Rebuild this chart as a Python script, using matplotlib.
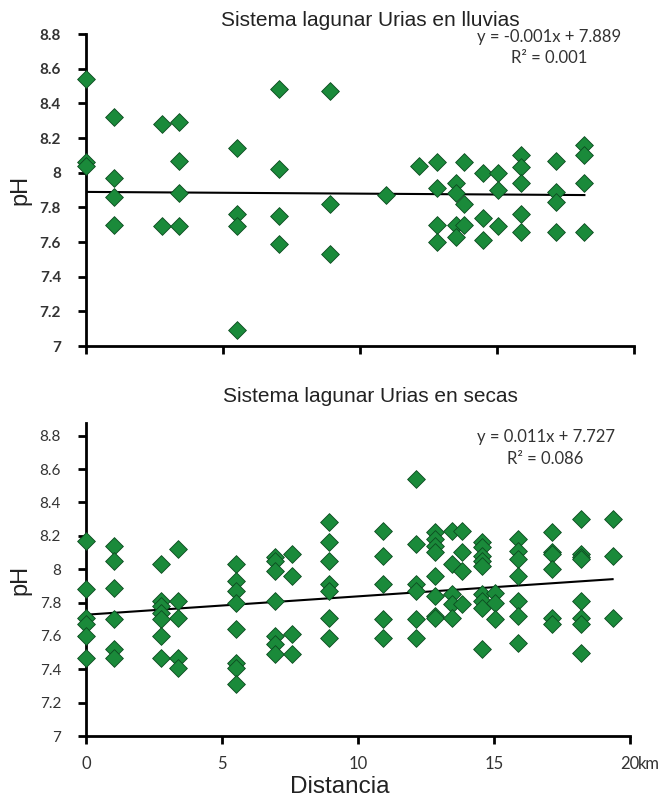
import numpy as np
import matplotlib
matplotlib.use("Agg")
import matplotlib.pyplot as plt
import matplotlib.transforms as mtransforms

# ===================== 数据 (lluvias) =====================
dist_lluvias = [0, 1.02, 2.76, 3.39, 5.51, 7.06, 8.92, 10.95, 12.17, 12.82,
                13.49, 13.8, 14.5, 15.02, 15.88, 17.14, 18.19]
ph_lluvias = [
    [8.54, 8.06, 8.04],
    [8.32, 7.97, 7.86, 7.70],
    [8.28, 7.69],
    [8.29, 8.07, 7.88, 7.69],
    [8.14, 7.76, 7.69, 7.09],
    [8.48, 8.02, 7.75, 7.59],
    [8.47, 7.82, 7.53],
    [7.87],
    [8.04],
    [8.06, 7.91, 7.70, 7.60],
    [7.94, 7.88, 7.70, 7.63],
    [8.06, 7.82, 7.70],
    [8.00, 7.74, 7.61],
    [8.00, 7.90, 7.69],
    [8.10, 8.03, 7.94, 7.76, 7.66],
    [8.07, 7.89, 7.83, 7.66],
    [8.16, 8.10, 7.94, 7.66],
]

# ===================== 数据 (secas) =====================
dist_secas = [0, 1.03, 2.77, 3.39, 5.5, 6.96, 7.57, 8.93, 10.93, 12.12,
              12.83, 13.44, 13.81, 14.55, 15.04, 15.87, 17.14, 18.19, 19.36]
ph_secas = [
    [8.17, 7.88, 7.71, 7.67, 7.60, 7.47],
    [8.14, 8.05, 7.89, 7.70, 7.52, 7.47],
    [8.03, 7.81, 7.78, 7.74, 7.70, 7.60, 7.47],
    [8.12, 7.81, 7.71, 7.47, 7.41],
    [8.03, 7.93, 7.87, 7.80, 7.64, 7.44, 7.41, 7.31],
    [8.07, 8.05, 7.99, 7.81, 7.60, 7.55, 7.49],
    [8.09, 7.96, 7.61, 7.49],
    [8.28, 8.16, 8.05, 7.91, 7.87, 7.71, 7.59],
    [8.23, 8.08, 7.91, 7.70, 7.59],
    [8.54, 8.15, 7.91, 7.87, 7.70, 7.59],
    [8.22, 8.18, 8.14, 8.10, 7.96, 7.84, 7.72, 7.71],
    [8.23, 8.03, 7.85, 7.79, 7.71],
    [8.23, 8.10, 7.99, 7.79],
    [8.16, 8.13, 8.08, 8.05, 8.02, 7.85, 7.81, 7.77, 7.52],
    [7.86, 7.80, 7.70],
    [8.18, 8.11, 8.06, 7.96, 7.81, 7.72, 7.56],
    [8.22, 8.10, 8.09, 8.00, 7.71, 7.67],
    [8.30, 8.09, 8.07, 8.06, 7.81, 7.71, 7.67, 7.50],
    [8.30, 8.08, 7.71],
]

# ===================== 趋势线 =====================
titles = ["Sistema lagunar Urias en lluvias", "Sistema lagunar Urias en secas"]
slopes = [-0.001, 0.011]
intercepts = [7.889, 7.727]
eq_labels = ["y = -0.001x + 7.889", "y = 0.011x + 7.727"]
r2_labels = ["R² = 0.001", "R² = 0.086"]

y_ticks = [7, 7.2, 7.4, 7.6, 7.8, 8, 8.2, 8.4, 8.6, 8.8]
y_tick_labels = ["7", "7.2", "7.4", "7.6", "7.8", "8", "8.2", "8.4", "8.6", "8.8"]
x_ticks = [0, 5, 10, 15, 20]
x_tick_labels = ["0", "5", "10", "15", "20"]
x_unit = "km"

GREEN = "#1a8a3a"
EDGE = "#0c4a20"
TXT = "#333333"


def expand(dists, groups):
    xs, ys = [], []
    for d, g in zip(dists, groups):
        for v in g:
            xs.append(d)
            ys.append(v)
    return np.array(xs), np.array(ys)


W, H = 667, 799
fig = plt.figure(figsize=(W / 100, H / 100), dpi=100)

ax_top = fig.add_axes([86 / W, 1 - 346 / H, (634 - 86) / W, (346 - 34) / H])
ax_bot = fig.add_axes([86 / W, 1 - 736 / H, (630 - 86) / W, (736 - 423) / H])

panels = [
    (ax_top, dist_lluvias, ph_lluvias, (7, 8.8), "bold", (0.99, 0.922)),
    (ax_bot, dist_secas, ph_secas, (7, 8.876), "normal", (0.955, 0.885)),
]

for i, (ax, dists, groups, ylim, weight, eq_y) in enumerate(panels):
    xs, ys = expand(dists, groups)
    ax.scatter(xs, ys, marker="D", s=82, color=GREEN, edgecolor=EDGE,
               linewidth=0.6, zorder=3, clip_on=False)

    xl = np.array([0, max(dists)])
    ax.plot(xl, slopes[i] * xl + intercepts[i], color="black", lw=1.5, zorder=2)

    ax.set_xlim(0, 20)
    ax.set_ylim(*ylim)
    ax.set_yticks(y_ticks)
    ax.set_yticklabels(y_tick_labels, fontsize=11, fontweight=weight,
                       color=TXT, family="Lato")
    ax.set_xticks(x_ticks)
    ax.set_xticklabels([])
    for s in ["top", "right"]:
        ax.spines[s].set_visible(False)
    for s in ["left", "bottom"]:
        ax.spines[s].set_linewidth(2)
    ax.tick_params(axis="both", direction="out", length=6, width=2, pad=12)
    ax.set_ylabel("pH", fontsize=17, family="Liberation Sans", color="#222222",
                  labelpad=6)

    ax.text(0.845, eq_y[0], eq_labels[i], transform=ax.transAxes,
            ha="center", va="center", fontsize=12, family="Lato", color=TXT)
    ax.text(0.845, eq_y[1], r2_labels[i], transform=ax.transAxes,
            ha="center", va="center", fontsize=12, family="Lato", color=TXT)

# x labels of the lower panel, placed under the ticks
lab_tr = mtransforms.blended_transform_factory(ax_bot.transData, fig.transFigure)
for xv, lab in zip(x_ticks, x_tick_labels):
    ax_bot.text(xv, 1 - 764 / H, lab, transform=lab_tr, ha="center",
                va="center", fontsize=12, family="Lato", color=TXT,
                clip_on=False, zorder=10)
ax_bot.annotate(x_unit, xy=(x_ticks[-1], 1 - 764 / H), xycoords=lab_tr,
                xytext=(6, 0), textcoords="offset points", ha="left",
                va="center", fontsize=12, family="Lato", color=TXT)

fig.text(340 / W, 1 - 787 / H, "Distancia", ha="center", va="center",
         fontsize=17.5, family="Liberation Sans", color="#222222")
fig.text(370 / W, 1 - 21 / H, titles[0], ha="center", va="center",
         fontsize=15, family="Liberation Sans", color="#222222")
fig.text(370 / W, 1 - 397 / H, titles[1], ha="center", va="center",
         fontsize=15, family="Liberation Sans", color="#222222")

fig.savefig("out.png", dpi=100, facecolor="white")
